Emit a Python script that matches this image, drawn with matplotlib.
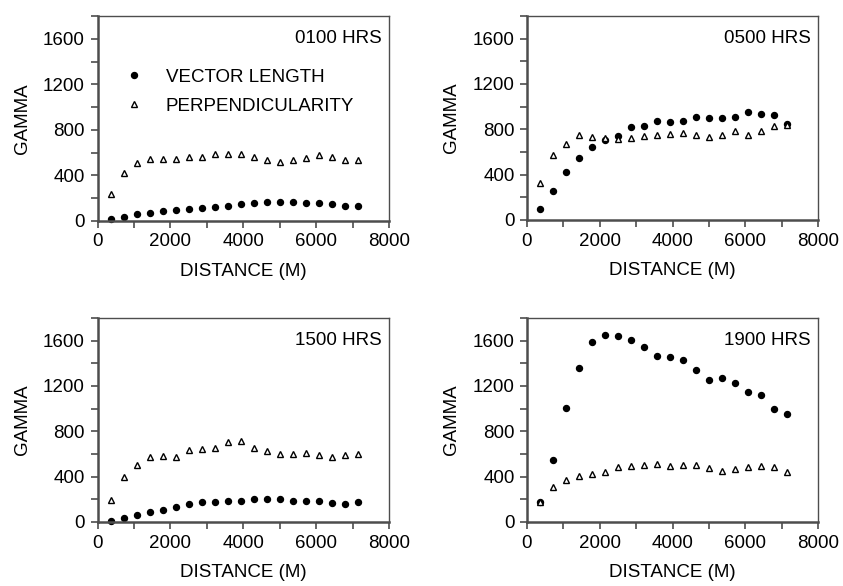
import matplotlib
matplotlib.use("Agg")
import matplotlib.pyplot as plt
from matplotlib.ticker import MultipleLocator

plt.rcParams['font.family'] = ['Liberation Sans', 'DejaVu Sans']

distance = [357, 714, 1071, 1428, 1785, 2142, 2499, 2856, 3213, 3570,
            3927, 4284, 4641, 4998, 5355, 5712, 6069, 6426, 6783, 7140]

hours = ['0100 HRS', '0500 HRS', '1500 HRS', '1900 HRS']

vec_0100 = [14, 32, 58, 72, 87, 99, 107, 110, 119, 133,
            151, 157, 165, 168, 168, 160, 154, 145, 133, 133]
perp_0100 = [241, 420, 510, 545, 545, 548, 565, 563, 589, 592,
             592, 560, 536, 522, 539, 554, 583, 565, 534, 534]

vec_0500 = [95, 258, 424, 551, 640, 702, 738, 821, 833, 877,
            865, 874, 910, 901, 904, 913, 954, 933, 924, 850]
perp_0500 = [323, 572, 667, 753, 735, 723, 717, 723, 741, 747,
             761, 767, 750, 729, 747, 782, 750, 782, 827, 841]

vec_1500 = [12, 33, 66, 84, 104, 134, 155, 173, 176, 185,
            188, 200, 206, 203, 185, 185, 185, 170, 158, 173]
perp_1500 = [191, 400, 506, 576, 585, 576, 632, 641, 656, 706,
             714, 656, 623, 597, 597, 606, 588, 576, 588, 597]

vec_1900 = [173, 544, 1005, 1358, 1588, 1646, 1641, 1608, 1544, 1464,
            1452, 1429, 1341, 1250, 1273, 1229, 1150, 1117, 1000, 953]
perp_1900 = [173, 306, 370, 409, 423, 441, 485, 494, 500, 509,
             494, 506, 506, 476, 447, 465, 482, 497, 482, 438]

vectors = [vec_0100, vec_0500, vec_1500, vec_1900]
perps = [perp_0100, perp_0500, perp_1500, perp_1900]

W, H = 843, 586
fig = plt.figure(figsize=(W / 100, H / 100), dpi=100)

# axes boxes in pixels: left, top, right, bottom
boxes = [(97.5, 16, 389, 221), (527, 16, 818, 220),
         (97.5, 318, 389, 522), (527, 318, 818, 522)]

spine_col = '#4d4d4d'
fs = 13.5

for i, (l, t, r, b) in enumerate(boxes):
    ax = fig.add_axes([l / W, 1 - b / H, (r - l) / W, (b - t) / H])
    ax.plot(distance, vectors[i], 'o', color='black', markersize=4.3,
            label='VECTOR LENGTH', clip_on=False)
    ax.plot(distance, perps[i], '^', markerfacecolor='white',
            markeredgecolor='black', markeredgewidth=1.0, markersize=4.0,
            label='PERPENDICULARITY', clip_on=False)
    ax.set_xlim(0, 8000)
    ax.set_ylim(0, 1800)
    ax.xaxis.set_major_locator(MultipleLocator(2000))
    ax.xaxis.set_minor_locator(MultipleLocator(1000))
    ax.yaxis.set_minor_locator(MultipleLocator(200))
    ax.set_yticks([0, 400, 800, 1200, 1600])
    ax.tick_params(which='both', direction='out', length=5, width=1.2,
                   color=spine_col, labelsize=fs, pad=4,
                   top=False, right=False)
    for name, s in ax.spines.items():
        s.set_color(spine_col)
        s.set_linewidth(1.8 if name in ('left', 'bottom') else 1.0)
    ax.set_xlabel('DISTANCE (M)', fontsize=fs, labelpad=9)
    ax.set_ylabel('GAMMA', fontsize=fs, labelpad=9)
    ax.text(0.976, 0.89, hours[i], transform=ax.transAxes, ha='right',
            va='center', fontsize=fs)
    if i == 0:
        ax.legend(loc='upper left', bbox_to_anchor=(0.06, 0.79),
                  frameon=False, fontsize=fs, handletextpad=1.2,
                  labelspacing=0.65, handlelength=1.0, borderpad=0)

fig.savefig('out.png', dpi=100)
